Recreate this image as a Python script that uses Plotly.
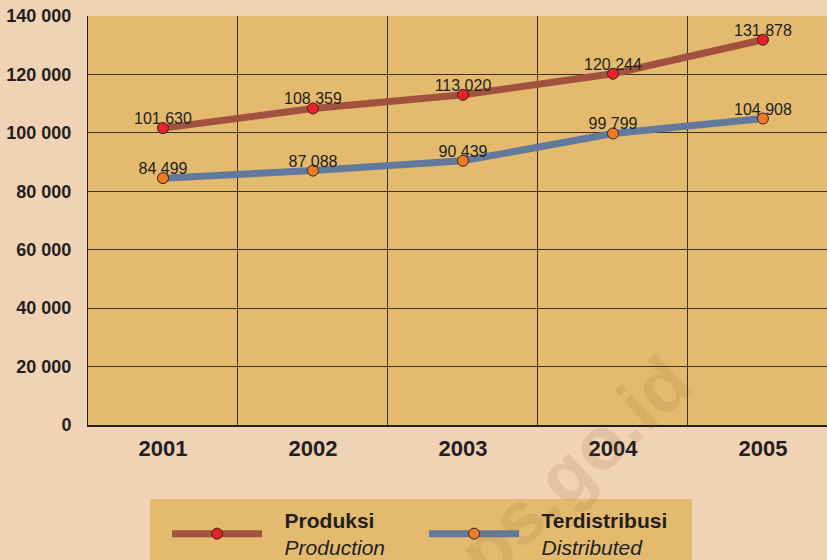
import plotly.graph_objects as go

years = ["2001", "2002", "2003", "2004", "2005"]
produksi = [101630, 108359, 113020, 120244, 131878]
terdistribusi = [84499, 87088, 90439, 99799, 104908]

pad = "&nbsp;" * 3

fig = go.Figure()
fig.add_trace(go.Scatter(
    x=years, y=produksi, name=pad + "<b>Produksi</b><br>" + pad + "<i>Production</i>",
    mode="lines+markers",
    line=dict(color="#A0523E", width=7),
    marker=dict(color="#E8202A", size=11, line=dict(color="#3a2418", width=1))))
fig.add_trace(go.Scatter(
    x=years, y=terdistribusi, name=pad + "<b>Terdistribusi</b><br>" + pad + "<i>Distributed</i>",
    mode="lines+markers",
    line=dict(color="#61799C", width=7),
    marker=dict(color="#EE7A22", size=11, line=dict(color="#3a2418", width=1))))

# value labels, kept close to the points
for vals in (produksi, terdistribusi):
    fig.add_trace(go.Scatter(
        x=years, y=vals, mode="text", texttemplate="%{y:,}", textposition="top center",
        textfont=dict(size=16, color="#231f20"), marker=dict(size=1),
        showlegend=False, hoverinfo="skip"))

# legend background box
fig.add_shape(type="rect", xref="paper", yref="paper",
              x0=0.0839, x1=0.8173, y0=-0.181, y1=-0.40,
              fillcolor="#E4BA6E", line=dict(width=0), layer="below")

# watermark
fig.add_annotation(
    text="<b>bps.go.id</b>", x=0.635, y=-0.14, xref="paper", yref="paper",
    xanchor="center", yanchor="middle",
    showarrow=False, textangle=-43, font=dict(size=74, color="rgba(150,100,60,0.14)"))

fig.update_layout(
    width=827, height=560, separators=". ",
    margin=dict(l=88, r=0, t=16, b=135, autoexpand=False),
    paper_bgcolor="#F0D2B4", plot_bgcolor="#E4BA6E",
    font=dict(family="Liberation Sans, Arial, sans-serif", color="#231f20"),
    showlegend=True,
    legend=dict(orientation="h", x=0.107, y=-0.183, xanchor="left", yanchor="top",
                bgcolor="rgba(0,0,0,0)", font=dict(size=21, color="#231f20"),
                itemwidth=90, entrywidth=152, itemclick=False, tracegroupgap=0),
)
fig.update_xaxes(type="category", range=[-0.5, 4.427], tickson="boundaries",
                 showgrid=True, gridcolor="#3b3222", gridwidth=1,
                 showline=True, linecolor="#231f20", linewidth=2,
                 ticks="", ticklabelstandoff=3,
                 tickfont=dict(size=22, family="Liberation Sans, Arial", weight="bold"))
fig.update_yaxes(range=[0, 140000], dtick=20000, tickformat=",d",
                 showgrid=True, gridcolor="#3b3222", gridwidth=1,
                 showline=True, linecolor="#231f20", linewidth=1, zeroline=False,
                 ticks="", ticklabelstandoff=12,
                 tickfont=dict(size=18, family="Liberation Sans, Arial", weight="bold"))

fig.write_html("out.html", config={"displayModeBar": False},
               post_script="document.body.style.margin='0px';")
